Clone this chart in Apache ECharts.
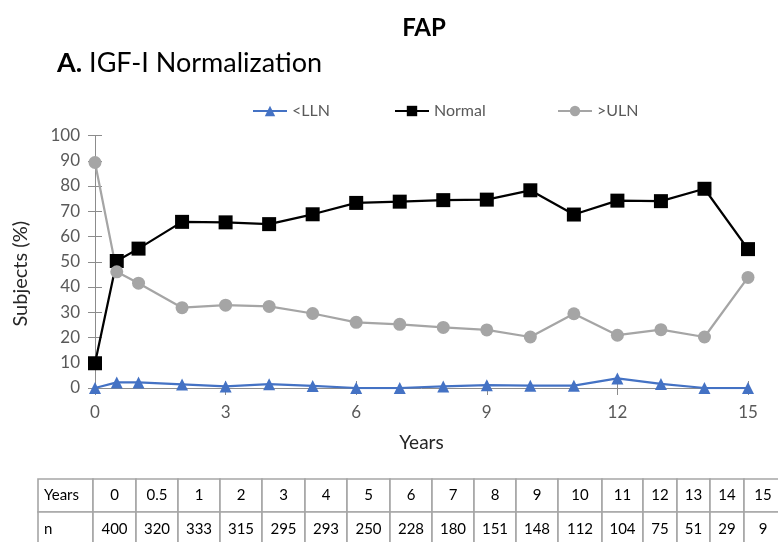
<!DOCTYPE html>
<html><head><meta charset="utf-8">
<script src="https://cdn.jsdelivr.net/npm/echarts@6/dist/echarts.min.js"></script>
<style>html,body{margin:0;padding:0;background:#fff}#c{width:778px;height:542px}</style>
</head><body><div id="c"></div>
<script>
// ---- data ----
const years = [0, 0.5, 1, 2, 3, 4, 5, 6, 7, 8, 9, 10, 11, 12, 13, 14, 15];
const yearLabels = ['0', '0.5', '1', '2', '3', '4', '5', '6', '7', '8', '9', '10', '11', '12', '13', '14', '15'];
const nValues = [400, 320, 333, 315, 295, 293, 250, 228, 180, 151, 148, 112, 104, 75, 51, 29, 9];
const llnValues = [0, 2.2, 2.2, 1.4, 0.6, 1.5, 0.8, 0, 0, 0.6, 1.1, 0.9, 0.9, 3.8, 1.6, 0, 0];
const normalValues = [9.8, 50.3, 55.2, 65.8, 65.6, 64.9, 68.8, 73.3, 73.8, 74.4, 74.6, 78.3, 68.7, 74.2, 74.0, 78.9, 55.0];
const ulnValues = [89.3, 46.0, 41.5, 31.8, 32.8, 32.3, 29.5, 26.0, 25.2, 24.0, 23.0, 20.2, 29.4, 20.9, 23.1, 20.2, 43.8];
const seriesNames = ['<LLN', 'Normal', '>ULN'];
const yTicks = { min: 0, max: 100, interval: 10 };
const xTicks = { min: 0, max: 15, interval: 3 };

// ---- layout (not data) ----
const FONT = 'Lato, "Open Sans", sans-serif';
const tableColEdges = [38, 93, 136, 178, 220, 262, 305, 347, 390, 432, 474, 516, 558, 602, 643, 677, 710, 744, 782];
const tableRowEdges = [479, 512, 546];
const colors = ['#4472C4', '#000000', '#A5A5A5'];
const symbols = ['triangle', 'rect', 'circle'];
const symbolSizes = [12, 14, 13];

function pairs(vals) { return years.map((x, i) => [x, vals[i]]); }

const graphics = [];
const rows = [['Years'].concat(yearLabels), ['n'].concat(nValues.map(String))];
rows.forEach((row, r) => {
  row.forEach((txt, c) => {
    const x0 = tableColEdges[c], x1 = tableColEdges[c + 1];
    const y0 = tableRowEdges[r], y1 = tableRowEdges[r + 1];
    graphics.push({ type: 'rect', shape: { x: x0, y: y0, width: x1 - x0, height: y1 - y0 },
      style: { fill: '#fff', stroke: '#a6a6a6', lineWidth: 1.6 }, silent: true });
    graphics.push({ type: 'text', silent: true,
      style: { text: txt, x: c === 0 ? x0 + 6 : (x0 + x1) / 2, y: (y0 + y1) / 2,
        align: c === 0 ? 'left' : 'center', verticalAlign: 'middle',
        fontSize: 15, fontFamily: FONT, fill: '#000' } });
  });
});

const legendLefts = [252, 394, 557];
const allData = [llnValues, normalValues, ulnValues];

const option = {
  animation: false,
  backgroundColor: '#fff',
  title: [
    { text: 'FAP', left: 419, textAlign: 'center', top: 11,
      textStyle: { fontFamily: FONT, fontWeight: 'bold', fontSize: 24, color: '#000' } },
    { text: '{b|A.} IGF-I Normalization', left: 52, top: 45,
      textStyle: { fontFamily: FONT, fontSize: 27, fontWeight: 'normal', color: '#000',
        rich: { b: { fontFamily: FONT, fontSize: 27, fontWeight: 'bold', color: '#000' } } } }
  ],
  legend: seriesNames.map((nm, i) => ({
    data: [nm], left: legendLefts[i], top: 103, padding: 0, itemWidth: 34, itemHeight: 13, itemGap: 0,
    textStyle: { fontFamily: FONT, fontSize: 16, color: '#595959' },
    selectedMode: false
  })),
  grid: { left: 95, right: 30, top: 135.5, bottom: 154, containLabel: false },
  xAxis: [
    { type: 'value', min: xTicks.min, max: xTicks.max, interval: xTicks.interval, position: 'bottom',
      name: 'Years', nameLocation: 'middle', nameGap: 45,
      nameTextStyle: { fontFamily: FONT, fontSize: 19, color: '#262626' },
      axisLine: { show: true, onZero: false, lineStyle: { color: '#8c8c8c', width: 1 } },
      axisTick: { show: true, length: 7, lineStyle: { color: '#8c8c8c' } },
      axisLabel: { fontFamily: FONT, fontSize: 17, color: '#595959', margin: 16 },
      splitLine: { show: false } },
    { type: 'value', min: xTicks.min, max: xTicks.max, interval: xTicks.interval, position: 'bottom',
      axisLine: { show: false, onZero: false },
      axisTick: { show: true, inside: true, length: 7, lineStyle: { color: '#8c8c8c' } },
      axisLabel: { show: false }, splitLine: { show: false } }
  ],
  yAxis: [
    { type: 'value', min: yTicks.min, max: yTicks.max, interval: yTicks.interval, position: 'left',
      name: 'Subjects (%)', nameLocation: 'middle', nameGap: 64,
      nameTextStyle: { fontFamily: FONT, fontSize: 20, color: '#262626', padding: [0, 24, 0, 0] },
      axisLine: { show: true, onZero: false, lineStyle: { color: '#8c8c8c', width: 1 } },
      axisTick: { show: true, length: 7, lineStyle: { color: '#8c8c8c' } },
      axisLabel: { fontFamily: FONT, fontSize: 17, color: '#595959', margin: 15 },
      splitLine: { show: false } },
    { type: 'value', min: yTicks.min, max: yTicks.max, interval: yTicks.interval, position: 'left',
      axisLine: { show: false, onZero: false },
      axisTick: { show: true, inside: true, length: 7, lineStyle: { color: '#8c8c8c' } },
      axisLabel: { show: false }, splitLine: { show: false } }
  ],
  series: seriesNames.map((nm, i) => ({
    name: nm, type: 'line', xAxisIndex: 0, yAxisIndex: 0,
    data: pairs(allData[i]),
    symbol: symbols[i], symbolSize: symbolSizes[i], showAllSymbol: true,
    lineStyle: { color: colors[i], width: 2.25 },
    itemStyle: { color: colors[i], borderWidth: 0 },
    emphasis: { disabled: true }
  })),
  graphic: graphics
};

const chart = echarts.init(document.getElementById('c'), null, { renderer: 'canvas' });
chart.setOption(option);
</script>
</body></html>
